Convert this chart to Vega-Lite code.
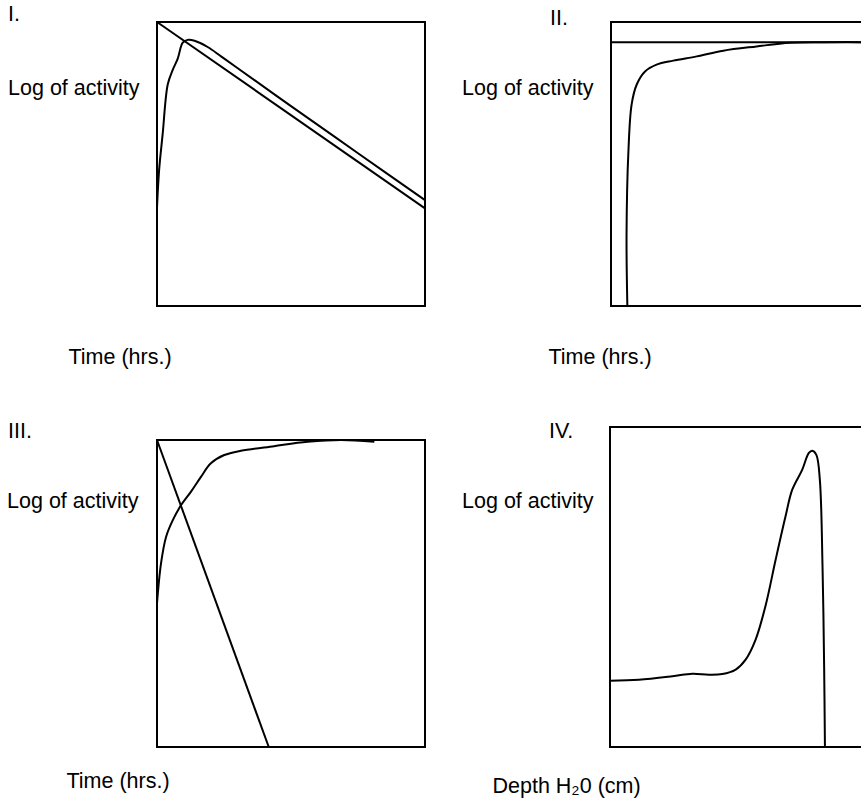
{
  "$schema": "https://vega.github.io/schema/vega-lite/v6.json",
  "padding": {"left": 5, "top": 2, "right": 0, "bottom": 0},
  "background": "white",
  "columns": 2,
  "align": "none",
  "spacing": {"row": 50, "column": 30},
  "datasets": {
    "p1": [
      {"series": "line", "i": 0, "t": 0, "v": 1},
      {"series": "line", "i": 1, "t": 1, "v": 0.344},
      {"series": "curve", "i": 0, "t": 0, "v": 0.346},
      {"series": "curve", "i": 1, "t": 0.008, "v": 0.48},
      {"series": "curve", "i": 2, "t": 0.021, "v": 0.604},
      {"series": "curve", "i": 3, "t": 0.04, "v": 0.78},
      {"series": "curve", "i": 4, "t": 0.058, "v": 0.83},
      {"series": "curve", "i": 5, "t": 0.077, "v": 0.87},
      {"series": "curve", "i": 6, "t": 0.096, "v": 0.927},
      {"series": "curve", "i": 7, "t": 0.114, "v": 0.937},
      {"series": "curve", "i": 8, "t": 0.14, "v": 0.934},
      {"series": "curve", "i": 9, "t": 0.189, "v": 0.912},
      {"series": "curve", "i": 10, "t": 0.239, "v": 0.879},
      {"series": "curve", "i": 11, "t": 0.3, "v": 0.838},
      {"series": "curve", "i": 12, "t": 0.5, "v": 0.704},
      {"series": "curve", "i": 13, "t": 0.75, "v": 0.538},
      {"series": "curve", "i": 14, "t": 1, "v": 0.373}
    ],
    "p2": [
      {"series": "line", "i": 0, "t": 0, "v": 0.929},
      {"series": "line", "i": 1, "t": 1, "v": 0.929},
      {"series": "curve", "i": 0, "t": 0.061, "v": 0},
      {"series": "curve", "i": 1, "t": 0.058, "v": 0.252},
      {"series": "curve", "i": 2, "t": 0.065, "v": 0.545},
      {"series": "curve", "i": 3, "t": 0.077, "v": 0.71},
      {"series": "curve", "i": 4, "t": 0.096, "v": 0.78},
      {"series": "curve", "i": 5, "t": 0.127, "v": 0.826},
      {"series": "curve", "i": 6, "t": 0.17, "v": 0.85},
      {"series": "curve", "i": 7, "t": 0.232, "v": 0.864},
      {"series": "curve", "i": 8, "t": 0.32, "v": 0.879},
      {"series": "curve", "i": 9, "t": 0.419, "v": 0.899},
      {"series": "curve", "i": 10, "t": 0.543, "v": 0.914},
      {"series": "curve", "i": 11, "t": 0.668, "v": 0.927},
      {"series": "curve", "i": 12, "t": 0.79, "v": 0.929},
      {"series": "curve", "i": 13, "t": 1, "v": 0.929}
    ],
    "p3": [
      {"series": "line", "i": 0, "t": 0, "v": 1},
      {"series": "line", "i": 1, "t": 0.417, "v": 0},
      {"series": "curve", "i": 0, "t": 0, "v": 0.468},
      {"series": "curve", "i": 1, "t": 0.015, "v": 0.598},
      {"series": "curve", "i": 2, "t": 0.034, "v": 0.685},
      {"series": "curve", "i": 3, "t": 0.059, "v": 0.739},
      {"series": "curve", "i": 4, "t": 0.09, "v": 0.788},
      {"series": "curve", "i": 5, "t": 0.127, "v": 0.832},
      {"series": "curve", "i": 6, "t": 0.164, "v": 0.88},
      {"series": "curve", "i": 7, "t": 0.201, "v": 0.924},
      {"series": "curve", "i": 8, "t": 0.251, "v": 0.951},
      {"series": "curve", "i": 9, "t": 0.313, "v": 0.965},
      {"series": "curve", "i": 10, "t": 0.437, "v": 0.98},
      {"series": "curve", "i": 11, "t": 0.562, "v": 0.994},
      {"series": "curve", "i": 12, "t": 0.687, "v": 1.0},
      {"series": "curve", "i": 13, "t": 0.811, "v": 0.994}
    ],
    "p4": [
      {"series": "curve", "i": 0, "t": 0, "v": 0.207},
      {"series": "curve", "i": 1, "t": 0.108, "v": 0.21},
      {"series": "curve", "i": 2, "t": 0.233, "v": 0.221},
      {"series": "curve", "i": 3, "t": 0.307, "v": 0.229},
      {"series": "curve", "i": 4, "t": 0.369, "v": 0.226},
      {"series": "curve", "i": 5, "t": 0.419, "v": 0.228},
      {"series": "curve", "i": 6, "t": 0.469, "v": 0.242},
      {"series": "curve", "i": 7, "t": 0.506, "v": 0.273},
      {"series": "curve", "i": 8, "t": 0.543, "v": 0.335},
      {"series": "curve", "i": 9, "t": 0.58, "v": 0.44},
      {"series": "curve", "i": 10, "t": 0.618, "v": 0.585},
      {"series": "curve", "i": 11, "t": 0.655, "v": 0.721},
      {"series": "curve", "i": 12, "t": 0.68, "v": 0.804},
      {"series": "curve", "i": 13, "t": 0.717, "v": 0.866},
      {"series": "curve", "i": 14, "t": 0.742, "v": 0.919},
      {"series": "curve", "i": 15, "t": 0.755, "v": 0.926},
      {"series": "curve", "i": 16, "t": 0.77, "v": 0.913},
      {"series": "curve", "i": 17, "t": 0.783, "v": 0.835},
      {"series": "curve", "i": 18, "t": 0.793, "v": 0.564},
      {"series": "curve", "i": 19, "t": 0.799, "v": 0.252},
      {"series": "curve", "i": 20, "t": 0.802, "v": 0}
    ]
  },
  "concat": [
    {
      "width": 268, "height": 284,
      "title": {"text": "I.", "dx": -149, "offset": -7},
      "data": {"name": "p1"},
      "mark": {"type": "line", "interpolate": "catmull-rom", "color": "black", "strokeWidth": 2},
      "encoding": {
        "x": {"field": "t", "type": "quantitative", "scale": {"domain": [0, 1]},
              "axis": {"title": "Time (hrs.)", "titleX": -89, "titleY": 57}},
        "y": {"field": "v", "type": "quantitative", "scale": {"domain": [0, 1]},
              "axis": {"title": "Log of activity", "titleX": -18, "titleY": 72}},
        "detail": {"field": "series"},
        "order": {"field": "i"}
      }
    },
    {
      "width": 268, "height": 284,
      "title": {"text": "II.", "dx": -61, "offset": -7},
      "data": {"name": "p2"},
      "mark": {"type": "line", "interpolate": "catmull-rom", "color": "black", "strokeWidth": 2},
      "encoding": {
        "x": {"field": "t", "type": "quantitative", "scale": {"domain": [0, 1]},
              "axis": {"title": "Time (hrs.)", "titleX": -63, "titleY": 57}},
        "y": {"field": "v", "type": "quantitative", "scale": {"domain": [0, 1]},
              "axis": {"title": "Log of activity", "titleX": -18, "titleY": 72}},
        "detail": {"field": "series"},
        "order": {"field": "i"}
      }
    },
    {
      "width": 268, "height": 307,
      "title": {"text": "III.", "dx": -149, "offset": -6},
      "data": {"name": "p3"},
      "mark": {"type": "line", "interpolate": "catmull-rom", "color": "black", "strokeWidth": 2},
      "encoding": {
        "x": {"field": "t", "type": "quantitative", "scale": {"domain": [0, 1]},
              "axis": {"title": "Time (hrs.)", "titleX": -91, "titleY": 40}},
        "y": {"field": "v", "type": "quantitative", "scale": {"domain": [0, 1]},
              "axis": {"title": "Log of activity", "titleX": -19, "titleY": 67}},
        "detail": {"field": "series"},
        "order": {"field": "i"}
      }
    },
    {
      "width": 268, "height": 320,
      "title": {"text": "IV.", "dx": -61, "offset": -15},
      "data": {"name": "p4"},
      "mark": {"type": "line", "interpolate": "catmull-rom", "color": "black", "strokeWidth": 2},
      "encoding": {
        "x": {"field": "t", "type": "quantitative", "scale": {"domain": [0, 1]},
              "axis": {"title": "Depth H₂0 (cm)", "titleX": -118, "titleY": 45}},
        "y": {"field": "v", "type": "quantitative", "scale": {"domain": [0, 1]},
              "axis": {"title": "Log of activity", "titleX": -17, "titleY": 80}},
        "detail": {"field": "series"},
        "order": {"field": "i"}
      }
    }
  ],
  "config": {
    "font": "Liberation Sans",
    "view": {"stroke": "black", "strokeWidth": 2},
    "axis": {
      "domain": false, "ticks": false, "labels": false, "grid": false,
      "titleFont": "Liberation Sans", "titleFontSize": 21.5, "titleFontWeight": "normal",
      "titleColor": "black", "titleBaseline": "alphabetic", "titleAlign": "left", "titlePadding": 0
    },
    "axisY": {"titleAngle": 0, "titleAlign": "right"},
    "title": {
      "anchor": "start", "frame": "group", "font": "Liberation Sans", "fontSize": 21.5,
      "fontWeight": "normal", "color": "black", "baseline": "alphabetic"
    }
  }
}
